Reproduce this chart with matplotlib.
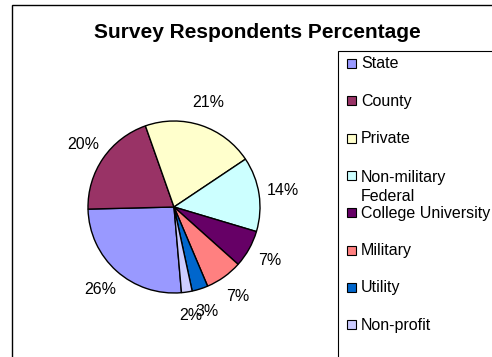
import matplotlib
matplotlib.use("Agg")
from matplotlib import pyplot as plt
from matplotlib.patches import Rectangle

categories = ['State', 'County', 'Private', 'Non-military\nFederal',
              'College University', 'Military', 'Utility', 'Non-profit']
shares = [26, 20, 21, 14, 7, 7, 3, 2]
colors = ['#9999FF', '#993366', '#FFFFCC', '#CCFFFF',
          '#660066', '#FF8080', '#0066CC', '#CCCCFF']
title = 'Survey Respondents Percentage'

W, H = 492, 357
plt.rcParams['font.family'] = ['Liberation Sans', 'DejaVu Sans']

fig = plt.figure(figsize=(W / 100, H / 100), dpi=100)

# outer chart border and legend frame (both run off the right/bottom edge)
fig.patches.append(Rectangle((12 / W, -0.1), 1.2, 1 - 5 / H + 0.1, transform=fig.transFigure,
                             fill=False, edgecolor='black', linewidth=1.0))
fig.patches.append(Rectangle((338 / W, -0.1), 1.2, 1 - 51 / H + 0.1, transform=fig.transFigure,
                             fill=False, edgecolor='black', linewidth=0.8))

fig.text(257 / W, 1 - 32 / H, title, ha='center', va='center',
         fontsize=15, fontweight='bold')

# pie axes: centre (174, 207) px, radius 86 px
cx, cy, r = 174, 207, 86
half = 140
ax = fig.add_axes([(cx - half) / W, (H - cy - half) / H, 2 * half / W, 2 * half / H])
ax.pie(shares, colors=colors, startangle=275, counterclock=False,
       autopct='%1.0f%%', pctdistance=1.28,
       wedgeprops=dict(edgecolor='black', linewidth=1.0),
       textprops=dict(fontsize=11.5))
ax.set_xlim(-half / r, half / r)
ax.set_ylim(-half / r, half / r)
ax.set_aspect('equal')
ax.axis('off')

# legend, drawn by hand like the Excel one
line_px = 21
for i, (lab, col) in enumerate(zip(categories, colors)):
    y = 63.5 + i * 37.3
    fig.patches.append(Rectangle((347 / W, 1 - (y + 4.5) / H), 9 / W, 9 / H,
                                 transform=fig.transFigure, facecolor=col,
                                 edgecolor='black', linewidth=0.8))
    extra = lab.count('\n') * line_px
    fig.text(361 / W, 1 - (y + 5 + extra) / H, lab, ha='left', va='baseline',
             fontsize=11.5, linespacing=1.4)

plt.savefig('out.png', dpi=100)
